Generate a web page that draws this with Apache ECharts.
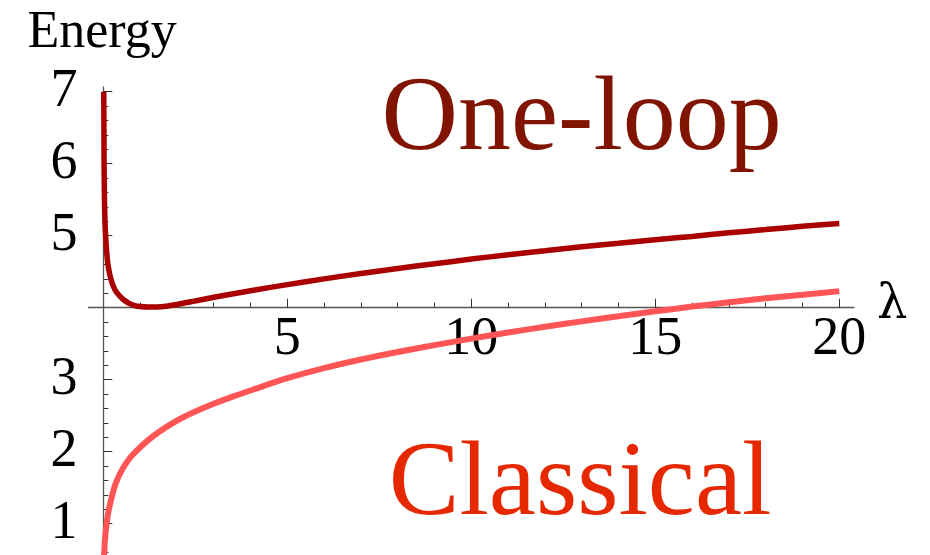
<!DOCTYPE html>
<html>
<head>
<meta charset="utf-8">
<script src="https://cdn.jsdelivr.net/npm/echarts@6/dist/echarts.min.js"></script>
<style>
  html, body { margin: 0; padding: 0; background: #ffffff; }
  #chart { width: 930px; height: 555px; }
</style>
</head>
<body>
<div id="chart"></div>
<script>
// One-loop energy versus coupling lambda
const lambdaOneLoop = [0.012, 0.02, 0.03, 0.045, 0.065, 0.09, 0.12, 0.16, 0.2, 0.27, 0.35, 0.45, 0.55, 0.7, 0.85, 1.0, 1.2, 1.45, 1.7, 2.0, 2.5, 3, 4, 5, 6, 7, 8, 9, 10, 11, 12, 13, 14, 15, 16, 17, 18, 19, 20];
const energyOneLoop = [7.0, 6.1, 5.55, 5.2, 4.98, 4.78, 4.62, 4.5, 4.41, 4.3, 4.22, 4.16, 4.11, 4.06, 4.03, 4.015, 4.008, 4.01, 4.02, 4.045, 4.095, 4.145, 4.235, 4.32, 4.40, 4.475, 4.545, 4.61, 4.675, 4.735, 4.79, 4.845, 4.895, 4.945, 4.99, 5.04, 5.085, 5.13, 5.17];

// Classical energy versus coupling lambda
const lambdaClassical = [0.02, 0.03, 0.05, 0.09, 0.14, 0.21, 0.28, 0.36, 0.5, 0.68, 0.9, 1.22, 1.5, 1.86, 2.2, 2.67, 3.0, 3.44, 4, 5, 6, 7, 8, 9, 10, 11, 12, 13, 14, 15, 16, 17, 18, 19, 20];
const energyClassical = [0.55, 0.65, 0.82, 1.0, 1.17, 1.33, 1.47, 1.59, 1.74, 1.885, 2.01, 2.16, 2.27, 2.39, 2.485, 2.595, 2.665, 2.75, 2.85, 3.02, 3.16, 3.28, 3.385, 3.48, 3.57, 3.655, 3.735, 3.81, 3.88, 3.95, 4.015, 4.075, 4.13, 4.18, 4.23];

// Axis ticks and ranges
const xMajorTicks = [5, 10, 15, 20];
const yMajorTicks = [1, 2, 3, 5, 6, 7];
const xRange = [-0.4, 20.4];
const yRange = [0.565, 7.065];
const xAxisCrossesAt = 4;

const xMinorTicks = [];
for (let i = 1; i <= 20; i++) xMinorTicks.push(i);
const yMinorTicks = [];
for (let k = 3; k <= 35; k++) {
  const v = Math.round(k * 2) / 10;
  if (v !== xAxisCrossesAt) yMinorTicks.push(v);
}

const serif = "'Liberation Serif', 'Times New Roman', serif";
const W = 930, H = 555;
const grid = { left: 88.6, right: 76, top: 87, bottom: 0 };
const gridHeight = H - grid.top - grid.bottom;
// lift the horizontal axis from the bottom of the grid up to E = 4
const xOffset = -gridHeight * (xAxisCrossesAt - yRange[0]) / (yRange[1] - yRange[0]);

const axisLineStyle = { color: '#555555', width: 1.3 };
const tickStyle = { color: '#333333', width: 1 };

const toPairs = (xs, ys) => xs.map((x, i) => [x, ys[i]]);

const chart = echarts.init(document.getElementById('chart'), null, { renderer: 'canvas' });
chart.setOption({
  animation: false,
  backgroundColor: '#ffffff',
  grid: grid,
  xAxis: [
    {
      type: 'value', min: xRange[0], max: xRange[1],
      position: 'bottom', offset: xOffset,
      axisLine: { show: true, onZero: false, lineStyle: axisLineStyle },
      axisTick: { show: true, inside: true, length: 5, customValues: xMinorTicks, lineStyle: tickStyle },
      axisLabel: { show: true, customValues: xMajorTicks, margin: 5, color: '#000', fontFamily: serif, fontSize: 54 },
      splitLine: { show: false }
    },
    {
      type: 'value', min: xRange[0], max: xRange[1],
      position: 'bottom', offset: xOffset,
      axisLine: { show: false, onZero: false },
      axisTick: { show: true, inside: true, length: 9, customValues: xMajorTicks, lineStyle: tickStyle },
      axisLabel: { show: false },
      splitLine: { show: false }
    }
  ],
  yAxis: [
    {
      type: 'value', min: yRange[0], max: yRange[1],
      position: 'left',
      axisLine: { show: true, onZero: true, onZeroAxisIndex: 0, lineStyle: axisLineStyle },
      axisTick: { show: true, inside: true, length: 5, customValues: yMinorTicks, lineStyle: tickStyle },
      axisLabel: { show: true, customValues: yMajorTicks, margin: 11, color: '#000', fontFamily: serif, fontSize: 54 },
      splitLine: { show: false }
    },
    {
      type: 'value', min: yRange[0], max: yRange[1],
      position: 'left',
      axisLine: { show: false, onZero: true, onZeroAxisIndex: 0 },
      axisTick: { show: true, inside: true, length: 9, customValues: yMajorTicks, lineStyle: tickStyle },
      axisLabel: { show: false },
      splitLine: { show: false }
    }
  ],
  series: [
    {
      name: 'Classical', type: 'line', xAxisIndex: 0, yAxisIndex: 0,
      data: toPairs(lambdaClassical, energyClassical),
      showSymbol: false, smooth: 0.3, clip: true,
      lineStyle: { color: '#FF5555', width: 6 }
    },
    {
      name: 'One-loop', type: 'line', xAxisIndex: 0, yAxisIndex: 0,
      data: toPairs(lambdaOneLoop, energyOneLoop),
      showSymbol: false, smooth: 0.3, clip: true,
      lineStyle: { color: '#AA0000', width: 5.5 }
    }
  ],
  graphic: [
    { type: 'text', x: 27.5, y: 33.8, style: { text: 'Energy', font: '52px ' + serif, fill: '#000000', align: 'left', verticalAlign: 'middle' } },
    { type: 'text', x: 877, y: 305.4, style: { text: 'λ', font: "48px 'DejaVu Serif', serif", fill: '#000000', align: 'left', verticalAlign: 'middle' } },
    { type: 'text', x: 381.5, y: 121.6, style: { text: 'One-loop', font: '106px ' + serif, fill: '#801400', align: 'left', verticalAlign: 'middle' } },
    { type: 'text', x: 388.7, y: 486.3, style: { text: 'Classical', font: '106px ' + serif, fill: '#E62800', align: 'left', verticalAlign: 'middle' } }
  ]
});
</script>
</body>
</html>
